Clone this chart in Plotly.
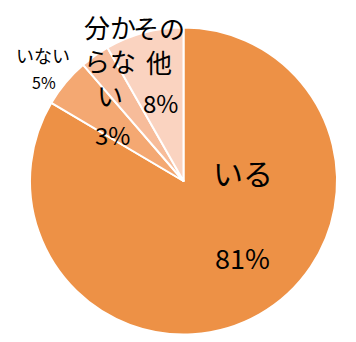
import plotly.graph_objects as go

labels = ["いる", "いない", "分からない", "その他"]
values = [81, 5, 3, 8]
label_lines = ["いる", "いない", "分か<br>らな<br>い", "その<br>他"]
colors = ["#ED9146", "#F4A872", "#F7BC9A", "#FAD3C0"]

fig = go.Figure(go.Pie(
    labels=labels,
    values=values,
    sort=False,
    direction="clockwise",
    rotation=0,
    marker=dict(colors=colors, line=dict(color="white", width=2)),
    textinfo="none",
    hoverinfo="label+value",
    showlegend=False,
    domain=dict(x=[0.0829, 0.948], y=[0.0219, 0.9196]),
))

font = "Noto Sans CJK JP, sans-serif"
ann = [
    dict(x=243/356, y=1-172/342, text=label_lines[0], size=30),
    dict(x=243/356, y=1-257/342, text=f"{values[0]}%", size=27),
    dict(x=43/356, y=1-55/342, text=label_lines[1], size=18),
    dict(x=44/356, y=1-82/342, text=f"{values[1]}%", size=16),
    dict(x=110/356, y=1-60/342, text=label_lines[2], size=26),
    dict(x=112/356, y=1-134/342, text=f"{values[2]}%", size=24),
    dict(x=159/356, y=1-44/342, text=label_lines[3], size=26),
    dict(x=160/356, y=1-102/342, text=f"{values[3]}%", size=24),
]
annotations = []
for a in ann:
    annotations.append(dict(
        x=a["x"], y=a["y"], xref="paper", yref="paper",
        text=a["text"], showarrow=False,
        xanchor="center", yanchor="middle",
        font=dict(family=font, size=a["size"], color="black"),
    ))

fig.update_layout(
    width=356, height=342,
    margin=dict(l=0, r=0, t=0, b=0),
    paper_bgcolor="white", plot_bgcolor="white",
    annotations=annotations,
)
fig.write_html("out.html")
